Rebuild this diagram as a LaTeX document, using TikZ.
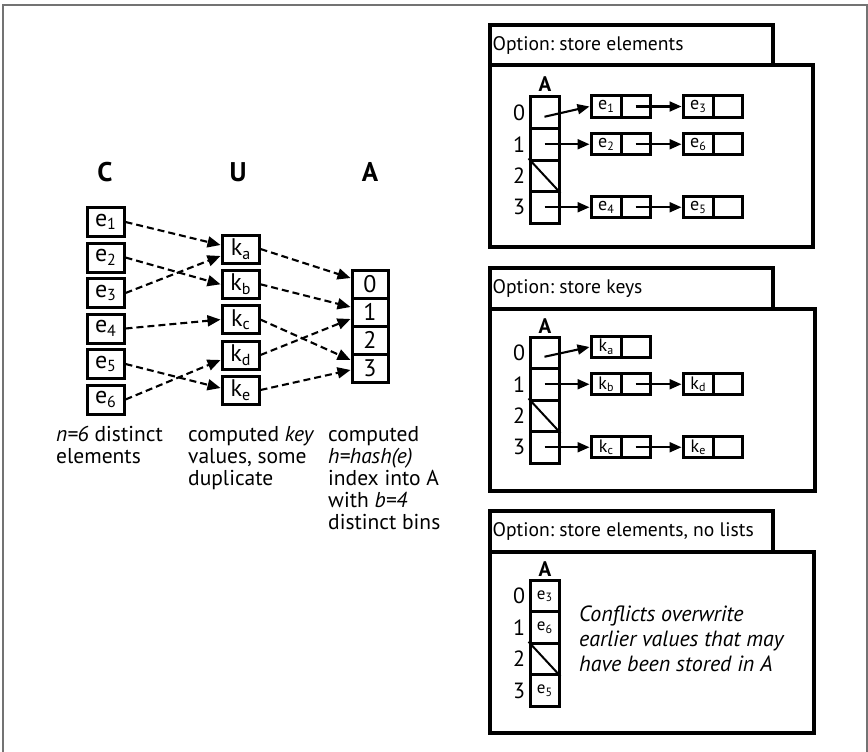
\documentclass[tikz,border=0pt]{standalone}
\usepackage{fontspec}
\setmainfont{PT Sans}
\usetikzlibrary{arrows.meta}
\frenchspacing
\newcommand{\setfs}[1]{\fontsize{#1}{#1}\selectfont}
\newcommand{\subix}[2][16]{\raisebox{-0.3ex}{\fontsize{#1}{#1}\selectfont #2}}
\tikzset{
  cellbox/.style={draw, line width=3pt, inner sep=0pt},
  ebox/.style={cellbox, minimum width=37pt, minimum height=29pt, font=\setfs{24}},
  abox/.style={cellbox, minimum width=36pt, minimum height=28pt, font=\setfs{24}},
  hashto/.style={-{Triangle[length=13pt,width=11pt]}, line width=2.1pt, dash pattern=on 7pt off 4pt},
  head/.style={font=\setfs{27}\bfseries},
  caption/.style={anchor=north west, align=left, inner sep=0pt, font=\fontsize{21.5}{22}\selectfont},
  panel/.style={draw, line width=3.2pt, anchor=north west, outer sep=0pt},
  tabbox/.style={panel, minimum width=283pt},
  tabtext/.style={anchor=west, inner xsep=2.5pt, font=\setfs{19.6}},
  slot/.style={cellbox, minimum width=29pt, minimum height=31.5pt, font=\setfs{17}},
  idx/.style={font=\setfs{22}},
  lnode/.style={cellbox, minimum width=30pt, minimum height=21pt, font=\setfs{18}},
  lptr/.style={cellbox, minimum width=29pt, minimum height=21pt},
  link/.style={-{Triangle[length=12pt,width=10pt]}, line width=2.1pt},
}
\begin{document}
\begin{tikzpicture}[x=1pt, y=-1pt]
    \useasboundingbox (0,0) rectangle (868,752);
    % 外框
    \draw[line width=2.6pt, black!55] (3,752) -- (3,5) -- (867,5) -- (867,752);
    % 三列标题
    \node[head] (hC) at (105,172) {C};
    \node[head] (hU) at (238,172) {U};
    \node[head] (hA) at (370,172) {A};
    % 元素 e
    \node[ebox] (e1) at (105.5,222) {e\subix{1}};
    \node[ebox] (e2) at (105.5,257.5) {e\subix{2}};
    \node[ebox] (e3) at (105.5,293) {e\subix{3}};
    \node[ebox] (e4) at (105.5,328.5) {e\subix{4}};
    \node[ebox] (e5) at (105.5,364) {e\subix{5}};
    \node[ebox] (e6) at (105.5,399.5) {e\subix{6}};
    % 键 k
    \node[ebox, minimum height=28pt] (ka) at (240.5,249) {k\subix{a}};
    \node[ebox, minimum height=28pt] (kb) at (240.5,284.3) {k\subix{b}};
    \node[ebox, minimum height=28pt] (kc) at (240.5,319.6) {k\subix{c}};
    \node[ebox, minimum height=28pt] (kd) at (240.5,355) {k\subix{d}};
    \node[ebox, minimum height=28pt] (ke) at (240.5,390) {k\subix{e}};
    % 数组 A
    \foreach \i in {0,...,3}
        \node[abox] (a\i) at (370,{284+28*\i}) {\i};
    % 虚线映射
    \draw[hashto] (e1.east) -- ([yshift=4pt]ka.west);
    \draw[hashto] (e2.east) -- (kb.west);
    \draw[hashto] (e3.east) -- ([yshift=-7pt]ka.west);
    \draw[hashto] (e4.east) -- (kc.west);
    \draw[hashto] (e5.east) -- ([yshift=2pt]ke.west);
    \draw[hashto] (e6.east) -- ([yshift=-5pt]kd.west);
    \draw[hashto] (ka.east) -- ([yshift=6pt]a0.west);
    \draw[hashto] (kb.east) -- ([yshift=5pt]a1.west);
    \draw[hashto] (kc.east) -- ([yshift=8pt]a3.west);
    \draw[hashto] (kd.east) -- ([yshift=-7pt]a1.west);
    \draw[hashto] (ke.east) -- ([yshift=-2pt]a3.west);
    % 说明文字
    \node[caption] (capC) at (56,426) {\textit{n=6} distinct\\elements};
    \node[caption] (capU) at (188,426) {computed \textit{key}\\values, some\\duplicate};
    \node[caption] (capA) at (328,426) {computed\\\textit{h=hash(e)}\\index into A\\with \textit{b=4}\\distinct bins};

    % 方案一：存元素
    \node[panel, minimum width=323pt, minimum height=182pt] (pan1) at (490,65) {};
    \node[tabbox, minimum height=40pt] (tab1) at (490,25) {};
    \node[tabtext] (tt1) at (tab1.west) {Option: store elements};
    \node[font=\setfs{21}\bfseries] (A1) at (545,84) {A};
    \foreach \i in {0,...,3} {
        \node[slot] (s1\i) at (544.5,{112.75+31.5*\i}) {};
        \node[idx] (n1\i) at (519,{112.75+31.5*\i}) {\i};
    }
    \draw[line width=2pt] (s12.north west) -- (s12.south east);
    \node[lnode] (l1e1) at (606,106.5) {e\subix[12]{1}};
    \node[lptr] (l1e1p) at (635.5,106.5) {};
    \node[lnode] (l1e3) at (698,106.5) {e\subix[12]{3}};
    \node[lptr] (l1e3p) at (727.5,106.5) {};
    \node[lnode] (l1e2) at (606,144.25) {e\subix[12]{2}};
    \node[lptr] (l1e2p) at (635.5,144.25) {};
    \node[lnode] (l1e6) at (698,144.25) {e\subix[12]{6}};
    \node[lptr] (l1e6p) at (727.5,144.25) {};
    \node[lnode] (l1e4) at (606,207.25) {e\subix[12]{4}};
    \node[lptr] (l1e4p) at (635.5,207.25) {};
    \node[lnode] (l1e5) at (698,207.25) {e\subix[12]{5}};
    \node[lptr] (l1e5p) at (727.5,207.25) {};
    \draw[link] ([yshift=-4pt]s10.center) -- (l1e1.west);
    \draw[link] (s11.center) -- (l1e2.west);
    \draw[link] (s13.center) -- (l1e4.west);
    \draw[link] (l1e1p.center) -- (l1e3.west);
    \draw[link] (l1e2p.center) -- (l1e6.west);
    \draw[link] (l1e4p.center) -- (l1e5.west);

    % 方案二：存键
    \node[panel, minimum width=325pt, minimum height=182pt] (pan2) at (490,309) {};
    \node[tabbox, minimum height=41pt] (tab2) at (490,268) {};
    \node[tabtext] (tt2) at (tab2.west) {Option: store keys};
    \node[font=\setfs{21}\bfseries] (A2) at (545,326) {A};
    \foreach \i in {0,...,3} {
        \node[slot] (s2\i) at (544.5,{352.75+31.5*\i}) {};
        \node[idx] (n2\i) at (519,{352.75+31.5*\i}) {\i};
    }
    \draw[line width=2pt] (s22.north west) -- (s22.south east);
    \node[lnode] (l2ka) at (606,347) {k\subix[12]{a}};
    \node[lptr] (l2kap) at (635.5,347) {};
    \node[lnode] (l2kb) at (606,384.25) {k\subix[12]{b}};
    \node[lptr] (l2kbp) at (635.5,384.25) {};
    \node[lnode] (l2kd) at (698,384.25) {k\subix[12]{d}};
    \node[lptr] (l2kdp) at (727.5,384.25) {};
    \node[lnode] (l2kc) at (606,447.25) {k\subix[12]{c}};
    \node[lptr] (l2kcp) at (635.5,447.25) {};
    \node[lnode] (l2ke) at (698,447.25) {k\subix[12]{e}};
    \node[lptr] (l2kep) at (727.5,447.25) {};
    \draw[link] ([yshift=-4pt]s20.center) -- (l2ka.west);
    \draw[link] (s21.center) -- (l2kb.west);
    \draw[link] (s23.center) -- (l2kc.west);
    \draw[link] (l2kbp.center) -- (l2kd.west);
    \draw[link] (l2kcp.center) -- (l2ke.west);

    % 方案三：只存元素
    \node[panel, minimum width=324pt, minimum height=181pt] (pan3) at (490,552) {};
    \node[tabbox, minimum height=41pt] (tab3) at (490,511) {};
    \node[tabtext] (tt3) at (tab3.west) {Option: store elements, no lists};
    \node[font=\setfs{21}\bfseries] (A3) at (545,569) {A};
    \foreach \i/\v in {0/e\subix[12]{3},1/e\subix[12]{6},2/,3/e\subix[12]{5}} {
        \node[slot] (s3\i) at (544.5,{596+31.5*\i}) {\v};
        \node[idx] (n3\i) at (519,{596+31.5*\i}) {\i};
    }
    \draw[line width=2pt] (s32.north west) -- (s32.south east);
    \node[caption, font=\fontsize{22}{25}\selectfont\itshape] (note) at (579,606)
        {Conflicts overwrite\\earlier values that may\\have been stored in A};
\end{tikzpicture}
\end{document}
